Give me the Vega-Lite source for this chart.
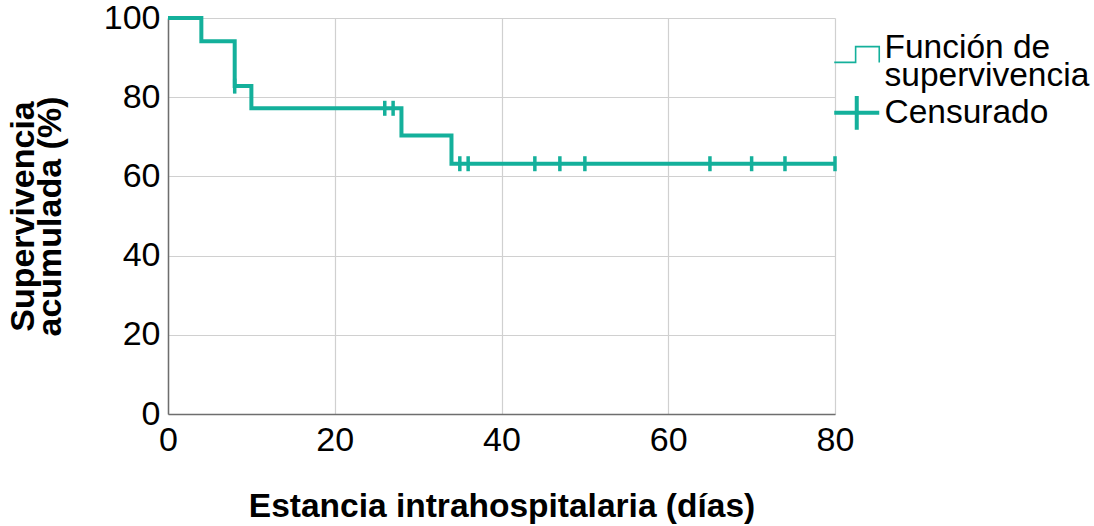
{
  "$schema": "https://vega.github.io/schema/vega-lite/v6.json",
  "width": 667,
  "height": 396,
  "autosize": "none",
  "padding": {"left": 168, "top": 18, "right": 259, "bottom": 112},
  "background": "white",
  "config": {
    "font": "Liberation Sans",
    "view": {"stroke": null},
    "axis": {
      "labelFont": "Liberation Sans",
      "titleFont": "Liberation Sans",
      "labelColor": "#000000",
      "titleColor": "#000000",
      "gridColor": "#d0d0d0",
      "gridWidth": 1.2,
      "domainColor": "#6e6e6e",
      "domainWidth": 1.5,
      "ticks": false
    }
  },
  "data": {
    "values": [
      {"dias": 0, "supervivencia": 100, "tipo": "Función de supervivencia"},
      {"dias": 4, "supervivencia": 94.1, "tipo": "Función de supervivencia"},
      {"dias": 8, "supervivencia": 82.8, "tipo": "Función de supervivencia"},
      {"dias": 10, "supervivencia": 77.2, "tipo": "Función de supervivencia"},
      {"dias": 28, "supervivencia": 70.3, "tipo": "Función de supervivencia"},
      {"dias": 34, "supervivencia": 63.2, "tipo": "Función de supervivencia"},
      {"dias": 80, "supervivencia": 63.2, "tipo": "Función de supervivencia"},
      {"dias": 8, "supervivencia": 82.8, "tipo": "Censurado"},
      {"dias": 26, "supervivencia": 77.2, "tipo": "Censurado"},
      {"dias": 27, "supervivencia": 77.2, "tipo": "Censurado"},
      {"dias": 35, "supervivencia": 63.2, "tipo": "Censurado"},
      {"dias": 36, "supervivencia": 63.2, "tipo": "Censurado"},
      {"dias": 44, "supervivencia": 63.2, "tipo": "Censurado"},
      {"dias": 47, "supervivencia": 63.2, "tipo": "Censurado"},
      {"dias": 50, "supervivencia": 63.2, "tipo": "Censurado"},
      {"dias": 65, "supervivencia": 63.2, "tipo": "Censurado"},
      {"dias": 70, "supervivencia": 63.2, "tipo": "Censurado"},
      {"dias": 74, "supervivencia": 63.2, "tipo": "Censurado"},
      {"dias": 80, "supervivencia": 63.2, "tipo": "Censurado"}
    ]
  },
  "encoding": {
    "x": {
      "field": "dias",
      "type": "quantitative",
      "scale": {"domain": [0, 80], "nice": false, "zero": false},
      "axis": {
        "values": [0, 20, 40, 60, 80],
        "title": "Estancia intrahospitalaria (días)",
        "titleFontSize": 33.5,
        "titleFontWeight": "bold",
        "titlePadding": 33,
        "labelFontSize": 34,
        "labelPadding": 9,
        "labelFlush": false
      }
    },
    "y": {
      "field": "supervivencia",
      "type": "quantitative",
      "scale": {"domain": [0, 100], "nice": false},
      "axis": {
        "values": [0, 20, 40, 60, 80, 100],
        "title": ["Supervivencia", "acumulada (%)"],
        "titleFontSize": 34,
        "titleFontWeight": "bold",
        "titleLineHeight": 27,
        "titlePadding": 36,
        "labelFontSize": 34,
        "labelPadding": 8,
        "labelFlush": false
      }
    },
    "color": {
      "field": "tipo",
      "type": "nominal",
      "scale": {
        "domain": ["Función de supervivencia", "Censurado"],
        "range": ["#14b09b", "#14b09b"]
      },
      "legend": {
        "title": null,
        "orient": "none",
        "legendX": 672,
        "legendY": 13,
        "labelFontSize": 33.5,
        "labelColor": "#000000",
        "labelLimit": 300,
        "labelOffset": 11,
        "symbolSize": 2025,
        "rowPadding": -6,
        "labelExpr": "datum.label == 'Función de supervivencia' ? ['Función de', 'supervivencia'] : datum.label",
        "encode": {
          "symbols": {
            "update": {
              "shape": {"signal": "datum.value == 'Censurado' ? 'M-1,0H1M0,-0.75V0.75' : 'M-1,0.65H-0.05V-0.05H1V0.65'"},
              "strokeWidth": {"signal": "datum.value == 'Censurado' ? 4 : 1.6"},
              "stroke": {"value": "#14b09b"},
              "fill": {"value": "transparent"},
              "fillOpacity": {"value": 0},
              "opacity": {"value": 1}
            }
          },
          "labels": {
            "update": {
              "lineHeight": {"value": 28}
            }
          }
        }
      }
    }
  },
  "layer": [
    {
      "transform": [{"filter": "datum.tipo == 'Función de supervivencia'"}],
      "mark": {"type": "line", "interpolate": "step-after", "strokeWidth": 4}
    },
    {
      "transform": [{"filter": "datum.tipo == 'Censurado'"}],
      "mark": {"type": "tick", "orient": "vertical", "size": 15, "thickness": 3.5, "opacity": 1}
    }
  ]
}
